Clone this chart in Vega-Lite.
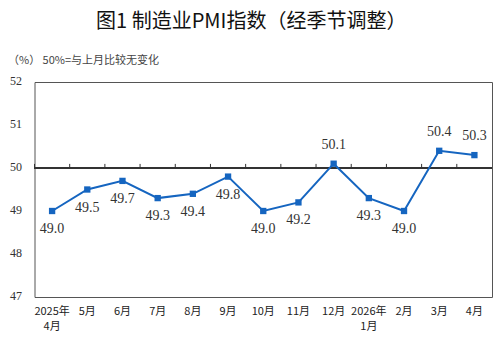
{
  "$schema": "https://vega.github.io/schema/vega-lite/v6.json",
  "width": 457.5,
  "height": 215,
  "autosize": "none",
  "padding": {"left": 34.5, "top": 82, "right": 12, "bottom": 50},
  "background": "white",
  "title": {
    "text": "图1 制造业PMI指数（经季节调整）",
    "font": "Noto Sans CJK SC",
    "fontSize": 20,
    "fontWeight": "normal",
    "color": "#111111",
    "anchor": "middle",
    "offset": 22,
    "dx": -12
  },
  "config": {
    "view": {"stroke": "#555555", "strokeWidth": 1},
    "axisX": {
      "domain": false,
      "ticks": false,
      "grid": false,
      "labelAngle": 0,
      "labelPadding": 8,
      "labelFont": "Noto Sans CJK SC",
      "labelFontSize": 11,
      "labelColor": "#222222",
      "labelLineHeight": 15,
      "labelBaseline": "top",
      "title": null,
      "labelExpr": "indexof(datum.value,'年')>0 ? [slice(datum.value,0,5), slice(datum.value,5)] : datum.value"
    },
    "axisY": {
      "domain": false,
      "ticks": false,
      "grid": false,
      "labelPadding": 13,
      "labelFont": "Liberation Serif",
      "labelFontSize": 12,
      "labelColor": "#333333",
      "labelOffset": -2,
      "titleAngle": 0,
      "titleAlign": "left",
      "titleBaseline": "middle",
      "titleX": -27,
      "titleY": -22,
      "titleFont": "Noto Sans CJK SC",
      "titleFontSize": 11,
      "titleFontWeight": "normal",
      "titleColor": "#444444"
    }
  },
  "data": {
    "values": [
      {"month": "2025年4月", "v": 49.0},
      {"month": "5月", "v": 49.5},
      {"month": "6月", "v": 49.7},
      {"month": "7月", "v": 49.3},
      {"month": "8月", "v": 49.4},
      {"month": "9月", "v": 49.8},
      {"month": "10月", "v": 49.0},
      {"month": "11月", "v": 49.2},
      {"month": "12月", "v": 50.1},
      {"month": "2026年1月", "v": 49.3},
      {"month": "2月", "v": 49.0},
      {"month": "3月", "v": 50.4},
      {"month": "4月", "v": 50.3}
    ]
  },
  "layer": [
    {
      "mark": {"type": "rule", "color": "#333333", "strokeWidth": 1},
      "encoding": {
        "y": {"datum": 50, "type": "quantitative", "scale": {"domain": [47, 52], "nice": false}, "axis": {"values": [47, 48, 49, 50, 51, 52], "title": "（%）  50%=与上月比较无变化"}}
      }
    },
    {
      "mark": {"type": "rule", "color": "#333333", "strokeWidth": 1},
      "encoding": {
        "x": {"field": "month", "type": "nominal", "sort": null, "bandPosition": 0, "scale": {"type": "band", "paddingInner": 0, "paddingOuter": 0}},
        "y": {"datum": 50, "type": "quantitative"},
        "y2": {"datum": 50.095}
      }
    },
    {
      "mark": {"type": "line", "color": "#1565C0", "strokeWidth": 2, "point": {"shape": "square", "size": 40, "filled": true, "color": "#1565C0", "opacity": 1}},
      "encoding": {
        "x": {"field": "month", "type": "nominal", "sort": null},
        "y": {"field": "v", "type": "quantitative"}
      }
    },
    {
      "transform": [{"filter": "datum.v < 50"}],
      "mark": {"type": "text", "font": "Liberation Serif", "fontSize": 14, "color": "#333333", "dy": 18, "baseline": "middle"},
      "encoding": {
        "x": {"field": "month", "type": "nominal", "sort": null},
        "y": {"field": "v", "type": "quantitative"},
        "text": {"field": "v", "type": "quantitative", "format": ".1f"}
      }
    },
    {
      "transform": [{"filter": "datum.v >= 50"}],
      "mark": {"type": "text", "font": "Liberation Serif", "fontSize": 14, "color": "#333333", "dy": -19, "baseline": "middle"},
      "encoding": {
        "x": {"field": "month", "type": "nominal", "sort": null},
        "y": {"field": "v", "type": "quantitative"},
        "text": {"field": "v", "type": "quantitative", "format": ".1f"}
      }
    }
  ]
}
